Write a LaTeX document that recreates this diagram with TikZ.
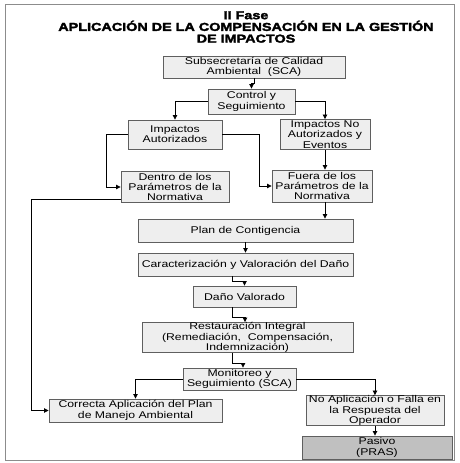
\documentclass[tikz,border=0pt]{standalone}
\usepackage{fontspec}
\setmainfont{Liberation Sans}
\newfontfamily\cajafont[FakeStretch=1.25]{Liberation Sans}
\newfontfamily\titulofont[FakeStretch=1.25,BoldFeatures={FakeBold=2.5}]{Liberation Sans}
\usepackage{tikz}
\usetikzlibrary{arrows.meta,positioning,calc}
\definecolor{grisclaro}{RGB}{238,238,238}
\definecolor{grisoscuro}{RGB}{192,192,192}
\definecolor{borde}{RGB}{95,95,95}
\definecolor{marco}{RGB}{140,140,140}

\begin{document}
\begin{tikzpicture}[x=1pt,y=-1pt,
    caja/.style={draw=borde, fill=grisclaro, line width=0.9pt, inner sep=0pt, align=center,
      font=\cajafont\fontsize{9.8}{10.2}\selectfont},
    flecha/.style={-{Triangle[length=4.5pt,width=4.5pt]}, line width=0.8pt, black}]
        \useasboundingbox (0,0) rectangle (460,463);
        \draw[marco, line width=0.8pt] (5,4) rectangle (454,460);
        % Titulo
        \node[font=\titulofont\bfseries\fontsize{11.5}{11.7}\selectfont, align=center] (titulo) at (246,27)
            {II Fase\\APLICACIÓN DE LA COMPENSACIÓN EN LA GESTIÓN\\DE IMPACTOS};
        % Cajas
        \node[caja, minimum width=182pt, minimum height=22pt] (sca) at (254,67) {Subsecretaría de Calidad\\Ambiental \ (SCA)};
        \node[caja, minimum width=87pt, minimum height=25pt] (control) at (251.5,101.5) {Control y\\Seguimiento};
        \node[caja, minimum width=94pt, minimum height=29pt] (autorizados) at (175,134.5) {Impactos\\Autorizados};
        \node[caja, minimum width=90pt, minimum height=30pt] (noautorizados) at (325,134.5) {Impactos No\\Autorizados y\\Eventos};
        \node[caja, minimum width=108pt, minimum height=31pt] (dentro) at (175,187) {Dentro de los\\Parámetros de la\\Normativa};
        \node[caja, minimum width=100pt, minimum height=32pt] (fuera) at (322,186) {Fuera de los\\Parámetros de la\\Normativa};
        \node[caja, minimum width=215pt, minimum height=23pt] (plan) at (245.5,230.5) {Plan de Contigencia};
        \node[caja, minimum width=215pt, minimum height=23pt] (caracterizacion) at (245.5,264.5) {Caracterización y Valoración del Daño};
        \node[caja, minimum width=103pt, minimum height=21pt] (dano) at (244.5,296.5) {Daño Valorado};
        \node[caja, minimum width=211pt, minimum height=30pt] (restauracion) at (247.5,337.5) {Restauración Integral\\(Remediación, \ Compensación,\\Indemnización)};
        \node[caja, minimum width=113pt, minimum height=22pt] (monitoreo) at (239.5,379) {Monitoreo y\\Seguimiento (SCA)};
        \node[caja, minimum width=173pt, minimum height=23pt] (correcta) at (135.5,410.5) {Correcta Aplicación del Plan\\de Manejo Ambiental};
        \node[caja, minimum width=138pt, minimum height=30pt] (noaplicacion) at (375,410.5) {No Aplicación o Falla en\\la Respuesta del\\Operador};
        \node[caja, fill=grisoscuro, minimum width=150pt, minimum height=23pt] (pasivo) at (377,447.5) {Pasivo\\(PRAS)};
        % Conectores
        \draw[flecha] (sca.south) -- ++(0,5) -| (control.north);
        \draw[flecha] (control.west) -| (autorizados.north);
        \draw[flecha] (control.east) -| (noautorizados.north);
        \draw[flecha] (autorizados.west) -- ++(-21,0) |- (dentro.west);
        \draw[flecha] (autorizados.east) -- ++(37,0) |- (fuera.west);
        \draw[flecha] (noautorizados.south) -- (noautorizados.south |- fuera.north);
        \draw[flecha] ([yshift=4pt]dentro.south west) -- ++(-89,0) |- (correcta.west);
        \draw[flecha] ([xshift=3pt]fuera.south) -- ([xshift=3pt]fuera.south |- plan.north);
        \draw[flecha] (plan.south) -- (caracterizacion.north);
        \draw[flecha] ([xshift=-13.5pt]caracterizacion.south) -- ++(0,5) -| (dano.north);
        \draw[flecha] ([xshift=-12.5pt]dano.south) -- ++(0,10) -| ([xshift=-2.5pt]restauracion.north);
        \draw[flecha] ([xshift=-15.5pt]restauracion.south) -- ++(0,10) -| ([xshift=3.5pt]monitoreo.north);
        \draw[flecha] (monitoreo.west) -| (correcta.north);
        \draw[flecha] (monitoreo.east) -| (noaplicacion.north);
        \draw[flecha] (noaplicacion.south) -- (noaplicacion.south |- pasivo.north);
    \end{tikzpicture}
\end{document}
